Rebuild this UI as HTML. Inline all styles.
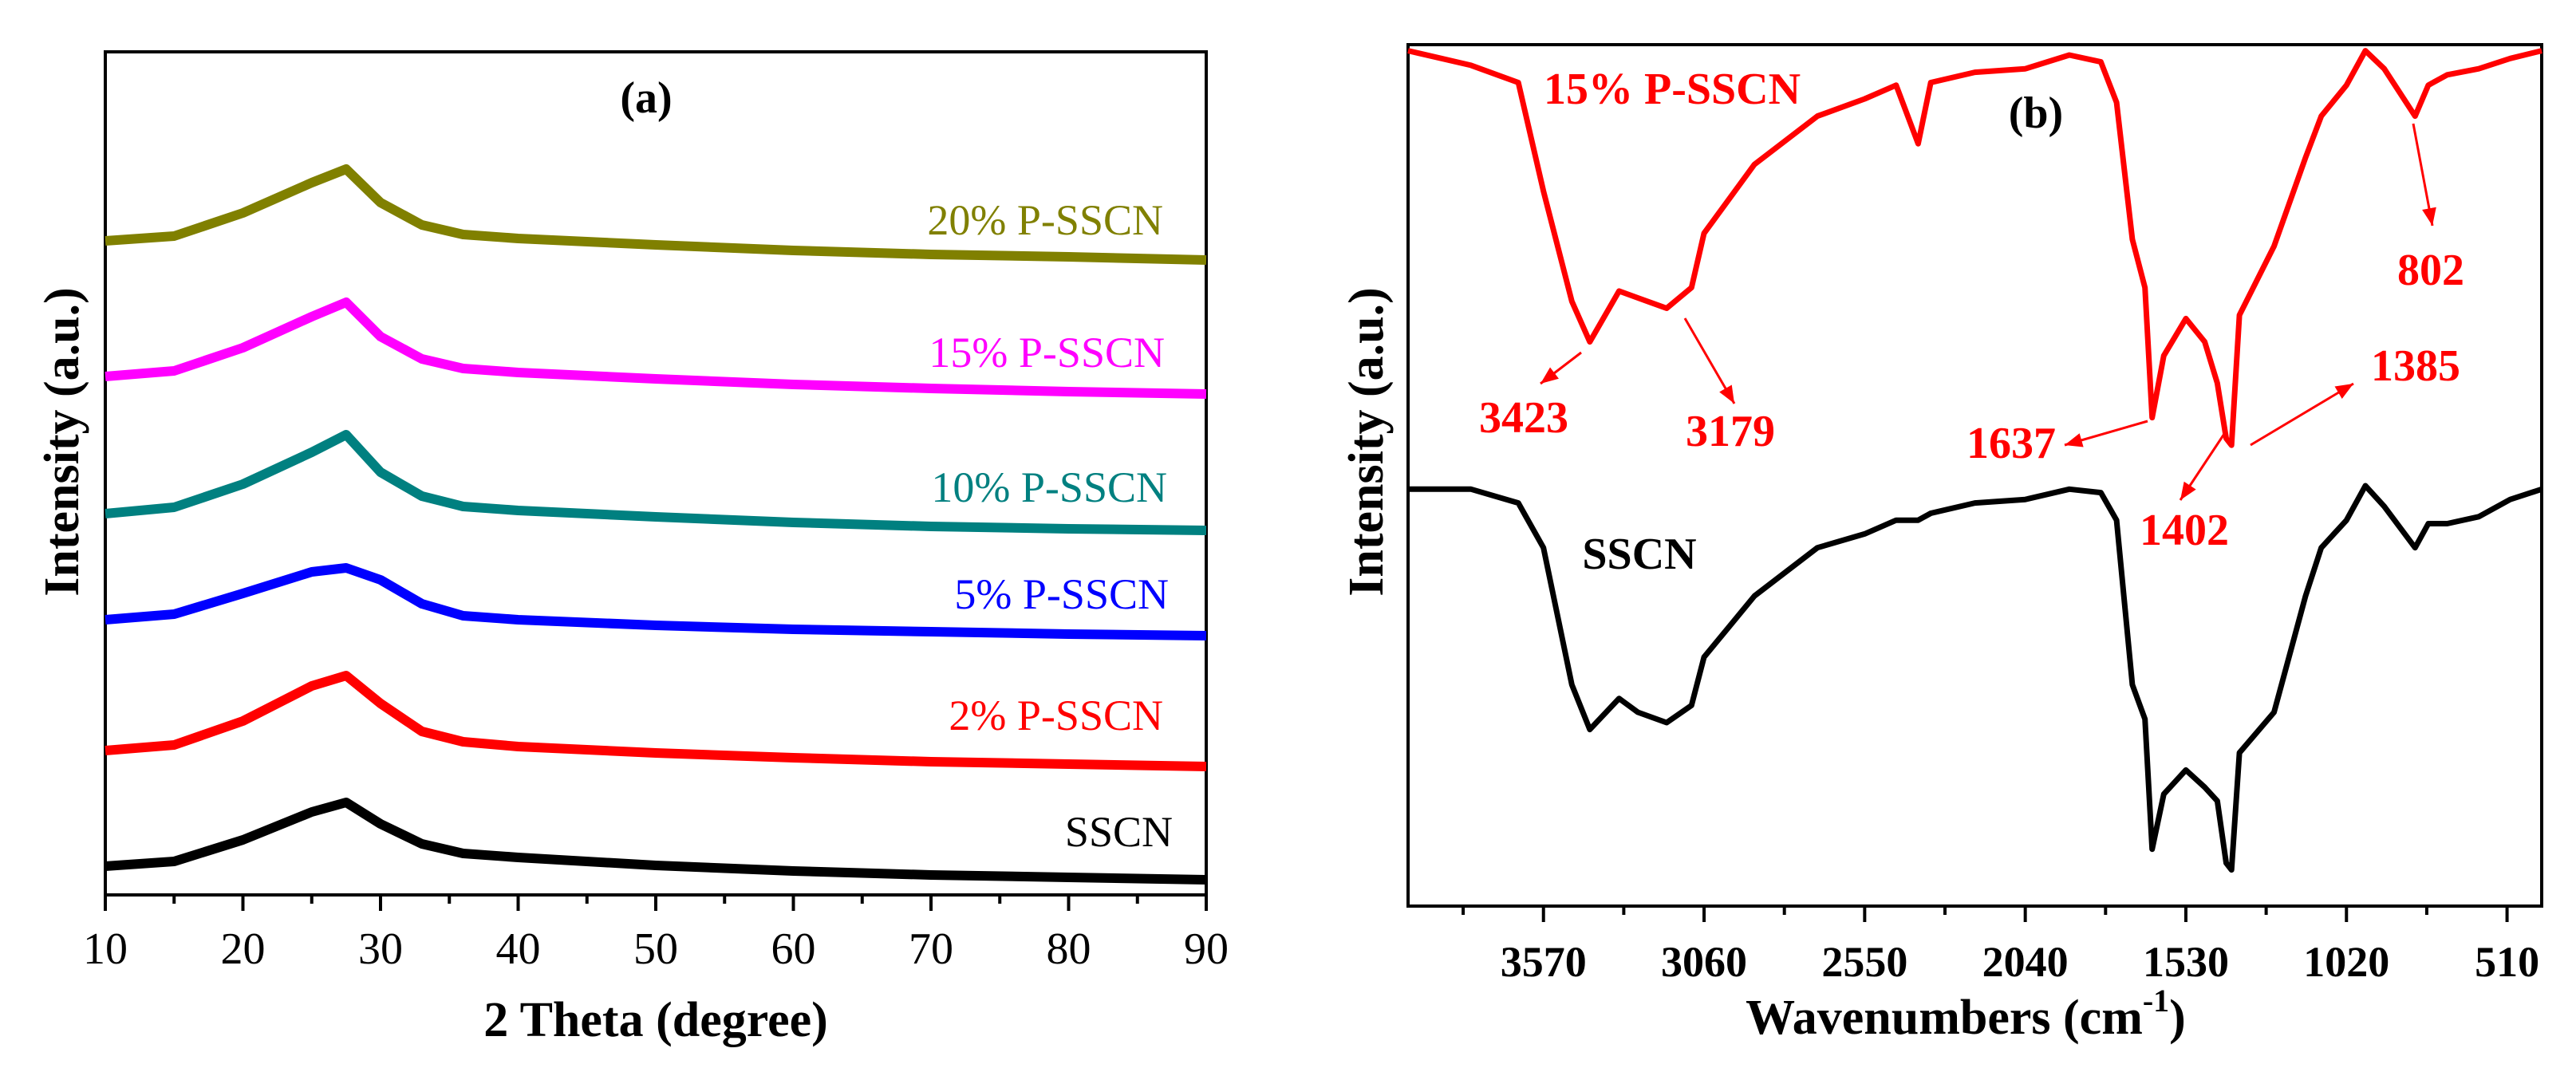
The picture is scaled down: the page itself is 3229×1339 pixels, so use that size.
<!DOCTYPE html>
<html><head><meta charset="utf-8"><style>
html,body{margin:0;padding:0;background:#fff;}
svg{display:block;font-family:"Liberation Serif",serif;}
</style></head><body>
<svg id="fig" width="3229" height="1339" viewBox="0 0 3229 1339" xmlns="http://www.w3.org/2000/svg">
<g id="pa"></g>
<g id="pb"></g>
</svg>
<script>
// ---- Panel (a) data: XRD ----
const xrdTheta = [10,15,20,25,27.5,30,33,36,40,50,60,70,80,90];
const xrdSSCN = [36,42,69,104,116,89,64,52,47,37,30,25,22,19];
const xrd2 = [181,188,218,262,275,240,205,192,186,178,172,167,164,161];
const xrd5 = [345,352,378,405,410,395,365,350,345,338,333,330,327,325];
const xrd10 = [478,486,515,555,577,530,500,487,482,474,467,462,459,457];
const xrd15 = [650,657,686,725,743,700,672,660,655,647,640,635,631,628];
const xrd20 = [820,826,855,893,910,868,840,828,823,815,808,803,800,796];
const xrdNames = ["SSCN","2% P-SSCN","5% P-SSCN","10% P-SSCN","15% P-SSCN","20% P-SSCN"];
const xrdTicks = [10,20,30,40,50,60,70,80,90];

// ---- Panel (b) data: FTIR ----
const wn = [4000,3800,3650,3570,3480,3423,3330,3270,3179,3100,3060,2900,2700,2550,2450,2380,2340,2200,2040,1900,1800,1750,1700,1660,1637,1600,1530,1470,1430,1402,1385,1360,1250,1150,1100,1020,960,900,802,760,700,600,500,400];
const ftir15 = [99.3,97.6,95.6,83.0,70.2,65.5,71.4,70.6,69.4,71.8,78.1,86.1,91.7,93.7,95.3,88.5,95.6,96.8,97.2,98.8,98.0,93.3,77.4,71.8,56.7,63.9,68.2,65.5,60.7,54.3,53.5,68.6,76.6,86.9,91.7,95.3,99.3,97.2,91.7,95.3,96.5,97.2,98.4,99.3];
const ftirSSCN = [48.4,48.4,46.8,41.6,25.7,20.5,24.1,22.5,21.3,23.3,28.9,36.0,41.6,43.2,44.8,44.8,45.6,46.8,47.2,48.4,48.0,44.8,25.7,21.7,6.6,13.0,15.8,13.8,12.2,5.0,4.2,17.8,22.5,36.0,41.6,44.8,48.8,46.4,41.6,44.4,44.4,45.2,47.2,48.4];
const ftirTicks = [3570,3060,2550,2040,1530,1020,510];

const NS="http://www.w3.org/2000/svg";
function mk(parent,tag,attrs,text){const e=document.createElementNS(NS,tag);for(const k in attrs)e.setAttribute(k,attrs[k]);if(text!==undefined)e.textContent=text;parent.appendChild(e);return e;}

// Panel a
const pa=document.getElementById('pa');
const aL=132,aR=1512,aT=65,aB=1122;
const ax=v=>aL+(v-10)/80*(aR-aL);
const ay=v=>aB-v;
let r=mk(pa,'rect',{x:aL,y:aT,width:aR-aL,height:aB-aT,fill:'none',stroke:'#000','stroke-width':4});


const aSeries=[xrdSSCN,xrd2,xrd5,xrd10,xrd15,xrd20];
const aColors=['#000000','#ff0000','#0000ff','#008080','#ff00ff','#808000'];
const aLabelY=[1043,897,745,611,442,276];
const aLabelX=[1470,1458,1465,1463,1460,1458];
aSeries.forEach((s,i)=>{
  const pts=s.map((v,j)=>ax(xrdTheta[j]).toFixed(1)+','+ay(v).toFixed(1)).join(' ');
  const pl=mk(pa,'polyline',{points:pts,fill:'none',stroke:aColors[i],'stroke-width':12,'stroke-linejoin':'round'});
  
  
  const t=mk(pa,'text',{x:aLabelX[i],y:aLabelY[i],'text-anchor':'end','dominant-baseline':'central','font-size':54,fill:aColors[i]},xrdNames[i]);
  
  
});
xrdTicks.forEach(v=>{
  const tk=mk(pa,'line',{x1:ax(v),x2:ax(v),y1:aB,y2:aB+20,stroke:'#000','stroke-width':4});
  
  
  const t=mk(pa,'text',{x:ax(v),y:1190,'text-anchor':'middle','dominant-baseline':'central','font-size':56},String(v));
  
  
});
for(let v=15;v<90;v+=10){
  const tk=mk(pa,'line',{x1:ax(v),x2:ax(v),y1:aB,y2:aB+11,stroke:'#000','stroke-width':4});
  
  
}
let tt=mk(pa,'text',{x:822,y:1279,'text-anchor':'middle','dominant-baseline':'central','font-size':62,'font-weight':'bold'},'2 Theta (degree)');

tt=mk(pa,'text',{x:0,y:0,transform:'translate(78,554) rotate(-90)','text-anchor':'middle','dominant-baseline':'central','font-size':62,'font-weight':'bold'},'Intensity (a.u.)');

tt=mk(pa,'text',{x:810,y:123,'text-anchor':'middle','dominant-baseline':'central','font-size':56,'font-weight':'bold'},'(a)');


// Panel b
const pb=document.getElementById('pb');
const bL=1765,bR=3186,bT=56,bB=1136;
const bx=v=>bL+(4000-v)/3600*(bR-bL);
const by=v=>bB-v*10.8;
r=mk(pb,'rect',{x:bL,y:bT,width:bR-bL,height:bB-bT,fill:'none',stroke:'#000','stroke-width':4});


[[ftirSSCN,'#000','ftir-curve-sscn'],[ftir15,'#ff0000','ftir-curve-15pct']].forEach(([s,c,n])=>{
  const pts=s.map((v,j)=>bx(wn[j]).toFixed(1)+','+by(v).toFixed(1)).join(' ');
  const pl=mk(pb,'polyline',{points:pts,fill:'none',stroke:c,'stroke-width':7,'stroke-linejoin':'round'});
  
  
});
ftirTicks.forEach(v=>{
  const tk=mk(pb,'line',{x1:bx(v),x2:bx(v),y1:bB,y2:bB+20,stroke:'#000','stroke-width':4});
  
  
  const t=mk(pb,'text',{x:bx(v),y:1206,'text-anchor':'middle','dominant-baseline':'central','font-size':54,'font-weight':'bold'},String(v));
  
  
});
for(let v=3825;v>400;v-=510){
  const tk=mk(pb,'line',{x1:bx(v),x2:bx(v),y1:bB,y2:bB+11,stroke:'#000','stroke-width':4});
  
  
}
tt=mk(pb,'text',{x:2464,y:1276,'text-anchor':'middle','dominant-baseline':'central','font-size':62,'font-weight':'bold'});

tt.innerHTML='Wavenumbers (cm<tspan dy="-22" font-size="40">-1</tspan><tspan dy="22">)</tspan>';
tt=mk(pb,'text',{x:0,y:0,transform:'translate(1713,554) rotate(-90)','text-anchor':'middle','dominant-baseline':'central','font-size':62,'font-weight':'bold'},'Intensity (a.u.)');

const bLabels=[['15% P-SSCN',2096,112,'#ff0000','label-15pct'],['(b)',2552,142,'#000','panel-label-b'],['SSCN',2055,695,'#000','label-sscn'],['3423',1910,524,'#ff0000','peak-3423'],['3179',2169,541,'#ff0000','peak-3179'],['1637',2521,556,'#ff0000','peak-1637'],['1402',2738,665,'#ff0000','peak-1402'],['1385',3028,459,'#ff0000','peak-1385'],['802',3047,339,'#ff0000','peak-802']];
bLabels.forEach(([s,x,y,c,n])=>{
  const t=mk(pb,'text',{x:x,y:y,'text-anchor':'middle','dominant-baseline':'central','font-size':56,'font-weight':'bold',fill:c},s);
  
  
});
const arrows=[[1982,442,1931,481],[2112,399,2174,506],[2692,528,2588,558],[2790,541,2733,627],[2821,558,2950,481],[3025,155,3049,283]];
arrows.forEach(([x1,y1,x2,y2],i)=>{
  const g=mk(pb,'g',{});
  
  
  mk(g,'line',{x1:x1,y1:y1,x2:x2,y2:y2,stroke:'#ff0000','stroke-width':3});
  const a=Math.atan2(y2-y1,x2-x1),L=22,W=9;
  const p1=[x2-L*Math.cos(a)+W*Math.sin(a),y2-L*Math.sin(a)-W*Math.cos(a)];
  const p2=[x2-L*Math.cos(a)-W*Math.sin(a),y2-L*Math.sin(a)+W*Math.cos(a)];
  mk(g,'polygon',{points:`${x2},${y2} ${p1[0]},${p1[1]} ${p2[0]},${p2[1]}`,fill:'#ff0000'});
});
</script>
</body></html>
